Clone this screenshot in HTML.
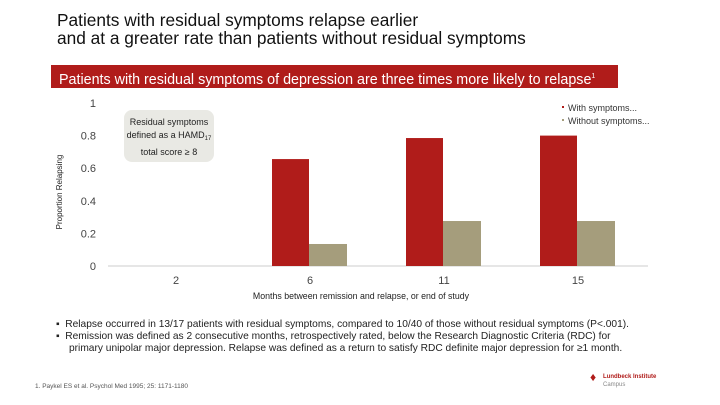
<!DOCTYPE html>
<html><head><meta charset="utf-8"><style>
body{margin:0;width:720px;height:405px;background:#fff;font-family:"Liberation Sans",sans-serif;position:relative;overflow:hidden}
.a{position:absolute}
</style></head><body>
<div class="a" style="left:57px;top:11px;font-size:17.3px;line-height:18px;color:#111">Patients with residual symptoms relapse earlier<br>and at a greater rate than patients without residual symptoms</div>
<div class="a" style="left:51px;top:65px;width:559px;height:23px;background:#b01c1a;color:#fff;font-size:14.3px;line-height:23px;padding-left:8px;white-space:nowrap">Patients with residual symptoms of depression are three times more likely to relapse<sup style="font-size:7px">1</sup></div>
<svg class="a" style="left:0;top:0" width="720" height="405">
<g id="g" font-family="Liberation Sans, sans-serif"></g>
</svg>
<div class="a" style="left:124px;top:110px;width:90px;height:52px;background:#e9e9e4;border-radius:8px;font-size:9px;line-height:13px;text-align:center;color:#222;padding-top:6px;box-sizing:border-box">Residual symptoms<br>defined as a HAMD<span style="font-size:6px;vertical-align:-2px">17</span><br>total score ≥ 8</div>
<div class="a" style="left:56px;top:319px;font-size:10.2px;line-height:12px;color:#222;white-space:nowrap">
<div>▪&nbsp;&nbsp;Relapse occurred in 13/17 patients with residual symptoms, compared to 10/40 of those without residual symptoms (P&lt;.001).</div>
<div>▪&nbsp;&nbsp;Remission was defined as 2 consecutive months, retrospectively rated, below the Research Diagnostic Criteria (RDC) for</div>
<div style="padding-left:13px">primary unipolar major depression. Relapse was defined as a return to satisfy RDC definite major depression for ≥1 month.</div></div>
<div class="a" style="left:35px;top:383px;font-size:6.5px;color:#555">1. Paykel ES et al. Psychol Med 1995; 25: 1171-1180</div>
<div class="a" style="left:603px;top:373px;font-size:6px;color:#b01c1a;line-height:8px"><span style="position:absolute;left:-13px;top:0;font-size:12px">♦</span><b>Lundbeck Institute</b><br><span style="color:#888">Campus</span></div>
<script>
const categories=["2","6","11","15"];
const withSym=[0,0.656,0.785,0.80];
const withoutSym=[0,0.135,0.276,0.276];
const yTicks=[0,0.2,0.4,0.6,0.8,1];
const yTickLabels=["0","0.2","0.4","0.6","0.8","1"];
const g=document.getElementById('g');
const NS='http://www.w3.org/2000/svg';
const y=v=>266-v*163, x=i=>176+i*134;
function mk(t,a,txt){const e=document.createElementNS(NS,t);for(const k in a)e.setAttribute(k,a[k]);if(txt!==undefined)e.textContent=txt;g.appendChild(e);return e;}
yTicks.forEach((v,i)=>{const e=mk('text',{x:96,y:y(v)+4,'text-anchor':'end','font-size':11,fill:'#444'},yTickLabels[i]);

});
const ax=mk('line',{x1:108,x2:648,y1:266,y2:266,stroke:'#ccc'});


categories.forEach((c,i)=>{
const t=mk('text',{x:x(i),y:284,'text-anchor':'middle','font-size':11,fill:'#444'},c);


if(withSym[i]>0){const b=mk('rect',{x:x(i)-38,y:y(withSym[i]),width:37,height:266-y(withSym[i]),fill:'#b01c1a'});

}
if(withoutSym[i]>0){const b=mk('rect',{x:x(i)-1,y:y(withoutSym[i]),width:38,height:266-y(withoutSym[i]),fill:'#a59d7c'});

}
});
const yt=mk('text',{x:0,y:0,'font-size':8,fill:'#222','text-anchor':'middle',transform:'translate(62,192) rotate(-90)'},'Proportion Relapsing');


const xt=mk('text',{x:361,y:299,'font-size':8.8,fill:'#222','text-anchor':'middle'},'Months between remission and relapse, or end of study');


[['With symptoms...','#b01c1a',111],['Without symptoms...','#a59d7c',124]].forEach(l=>{
const r=mk('rect',{x:562,y:l[2]-5,width:2,height:2,fill:l[1]});


const t=mk('text',{x:568,y:l[2],'font-size':9,fill:'#333'},l[0]);

});
</script>
</body></html>
